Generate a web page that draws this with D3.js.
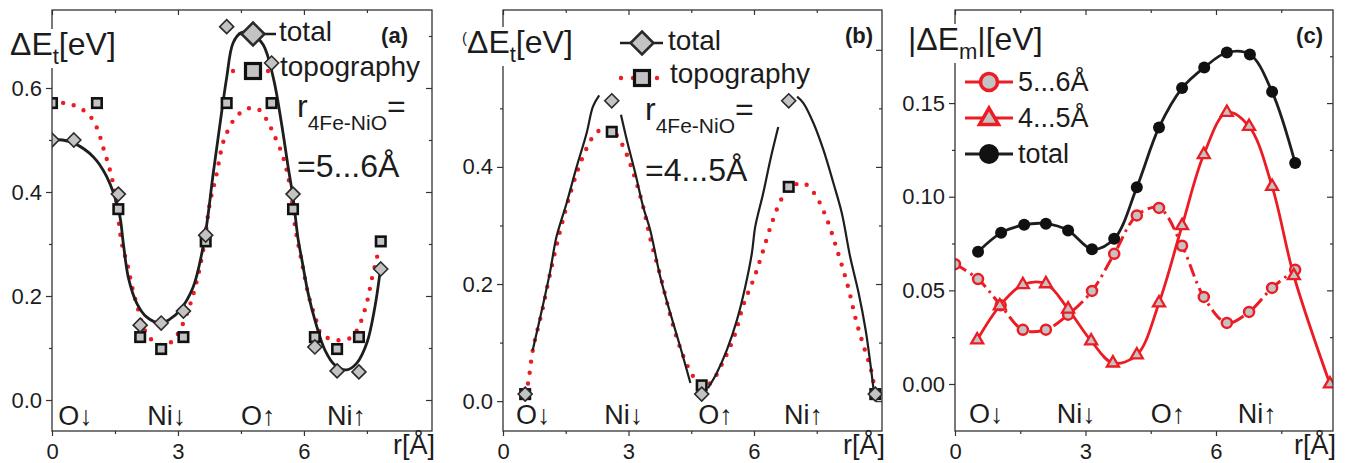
<!DOCTYPE html>
<html lang="en">
<head>
<meta charset="UTF-8">
<title>Energy profiles along r</title>
<script src="https://d3js.org/d3.v7.min.js"></script>
<style>
  body { margin: 0; background: #fff; }
  svg { font-family: "Liberation Sans", Arial, sans-serif; }
  svg text { fill: #1c1c1c; }
</style>
</head>
<body>
<script>
// ---------------- data ----------------
const siteLabels = ["O↓", "Ni↓", "O↑", "Ni↑"];
const xMajor = [0, 3, 6];
const xMinor = [1.5, 4.5, 7.5];

// (a) r_4Fe-NiO = 5...6 Å
const aTotalR = [0, 0.52, 1.58, 2.1, 2.6, 3.13, 3.66, 4.16, 5.23, 5.74, 6.26, 6.79, 7.31, 7.83];
const aTotalE = [0.50, 0.50, 0.396, 0.144, 0.148, 0.171, 0.317, 0.718, 0.648, 0.396, 0.102, 0.056, 0.054, 0.252];
const aTopoR = [0, 1.07, 1.58, 2.1, 2.6, 3.13, 3.66, 4.16, 5.23, 5.74, 6.26, 6.79, 7.31, 7.83];
const aTopoE = [0.571, 0.571, 0.367, 0.121, 0.098, 0.121, 0.305, 0.571, 0.571, 0.367, 0.121, 0.098, 0.121, 0.305];
// fitted curves
const aFitTotalR = [0, 0.25, 0.52, 0.98, 1.3, 1.6, 1.7, 1.82, 2.02, 2.25, 2.57, 2.8, 3.05, 3.36, 3.57, 3.69, 3.84, 4.0, 4.16, 4.31, 4.5, 4.75, 5.03, 5.27, 5.47, 5.62, 5.74, 5.86, 5.95, 6.1, 6.26, 6.5, 6.74, 7.02, 7.26, 7.5, 7.69, 7.81];
const aFitTotalE = [0.50, 0.50, 0.494, 0.468, 0.43, 0.36, 0.30, 0.235, 0.186, 0.16, 0.148, 0.155, 0.173, 0.217, 0.283, 0.34, 0.436, 0.53, 0.62, 0.686, 0.706, 0.705, 0.683, 0.62, 0.53, 0.45, 0.39, 0.31, 0.27, 0.205, 0.154, 0.096, 0.067, 0.058, 0.071, 0.11, 0.179, 0.244];
const aFitTopoR = [0, 0.31, 0.57, 0.86, 1.05, 1.24, 1.4, 1.52, 1.66, 1.81, 1.93, 2.05, 2.17, 2.31, 2.57, 2.85, 3.05, 3.27, 3.43, 3.6, 3.76, 3.9, 4.07, 4.17, 4.36, 4.64, 4.9, 5.12, 5.26, 5.5, 5.67, 5.79, 5.95, 6.12, 6.29, 6.38, 6.57, 6.86, 7.14, 7.31, 7.5, 7.62, 7.76];
const aFitTopoE = [0.571, 0.571, 0.565, 0.55, 0.527, 0.48, 0.436, 0.388, 0.302, 0.256, 0.21, 0.175, 0.142, 0.121, 0.106, 0.112, 0.135, 0.179, 0.223, 0.288, 0.379, 0.427, 0.494, 0.515, 0.542, 0.56, 0.56, 0.538, 0.515, 0.468, 0.41, 0.333, 0.265, 0.198, 0.154, 0.131, 0.119, 0.115, 0.121, 0.142, 0.188, 0.234, 0.281];

// (b) r_4Fe-NiO = 4...5 Å
const bTotalR = [0.53, 2.6, 4.75, 6.83, 8.9];
const bTotalE = [0.012, 0.513, 0.012, 0.513, 0.012];
const bTopoR = [0.53, 2.6, 4.75, 6.83, 8.9];
const bTopoE = [0.012, 0.46, 0.027, 0.366, 0.012];
// NaN marks the gaps of the solid curve
const bFitTotalR = [0.71, 0.93, 1.12, 1.28, 1.52, 1.76, 2.0, 2.15, 2.3, NaN, 2.82, 2.96, 3.16, 3.35, 3.52, 3.76, 4.0, 4.24, 4.48, NaN, 4.9, 5.11, 5.35, 5.59, 5.79, 5.95, 6.03, 6.22, 6.39, 6.58, NaN, 7.03, 7.18, 7.42, 7.66, 7.9, 8.1, 8.3, 8.5, 8.67, 8.78, 8.86];
const bFitTotalE = [0.087, 0.156, 0.219, 0.281, 0.338, 0.4, 0.458, 0.503, 0.522, NaN, 0.489, 0.446, 0.39, 0.332, 0.292, 0.212, 0.15, 0.092, 0.031, NaN, 0.022, 0.048, 0.087, 0.138, 0.195, 0.253, 0.298, 0.355, 0.412, 0.468, NaN, 0.52, 0.509, 0.475, 0.429, 0.372, 0.321, 0.246, 0.185, 0.121, 0.065, 0.019];
const bFitTopoR = [0.53, 0.6, 0.72, 0.93, 1.13, 1.37, 1.55, 1.77, 2.0, 2.2, 2.45, 2.65, 2.88, 3.09, 3.33, 3.53, 3.77, 4.05, 4.32, 4.56, 4.75, 4.96, 5.28, 5.52, 5.76, 6.0, 6.2, 6.45, 6.69, 6.95, 7.17, 7.43, 7.72, 8.0, 8.25, 8.44, 8.63, 8.8, 8.9];
const bFitTopoE = [0.012, 0.031, 0.09, 0.152, 0.219, 0.292, 0.34, 0.391, 0.432, 0.456, 0.467, 0.46, 0.434, 0.395, 0.338, 0.275, 0.212, 0.133, 0.075, 0.041, 0.027, 0.031, 0.07, 0.109, 0.167, 0.21, 0.253, 0.309, 0.349, 0.368, 0.373, 0.356, 0.315, 0.255, 0.195, 0.138, 0.092, 0.053, 0.012];

// (c) |dE_m|
const cTotalR = [0.53, 1.06, 1.59, 2.09, 2.6, 3.15, 3.66, 4.18, 4.69, 5.22, 5.73, 6.25, 6.78, 7.29, 7.82];
const cTotalE = [0.0706, 0.0807, 0.085, 0.0856, 0.082, 0.072, 0.0775, 0.105, 0.137, 0.158, 0.169, 0.177, 0.176, 0.156, 0.118];
const c56R = [0, 0.53, 1.05, 1.56, 2.09, 2.6, 3.15, 3.66, 4.18, 4.69, 5.22, 5.72, 6.25, 6.76, 7.29, 7.82];
const c56E = [0.064, 0.056, 0.042, 0.0289, 0.029, 0.037, 0.0497, 0.0695, 0.09, 0.094, 0.0738, 0.0465, 0.0326, 0.0385, 0.0513, 0.061];
const c45R = [0.51, 1.03, 1.56, 2.09, 2.6, 3.13, 3.63, 4.18, 4.69, 5.22, 5.72, 6.25, 6.76, 7.29, 7.79, 8.62];
const c45E = [0.0235, 0.0417, 0.053, 0.0535, 0.040, 0.023, 0.0112, 0.0155, 0.0433, 0.0845, 0.1225, 0.145, 0.1375, 0.1055, 0.0578, 0.0];

// ---------------- drawing ----------------
const red = "#ec1c24", ink = "#1e1e1e", grey = "#c3c3c3", axisInk = "#333";
const svg = d3.select("body").append("svg").attr("width", 1345).attr("height", 463);

const pts = (xs, ys) => xs.map((r, i) => [r, ys[i]]);
const diamond = h => `M0,${-h}L${h},0L0,${h}L${-h},0Z`;
const triangle = s => `M0,${-s / Math.sqrt(3)}L${s / 2},${s / (2 * Math.sqrt(3))}L${-s / 2},${s / (2 * Math.sqrt(3))}Z`;

function makePanel(cfg) {
  const x = d3.scaleLinear().domain([0, cfg.xMax]).range([cfg.left, cfg.right]);
  const y = d3.scaleLinear().domain(cfg.yDomain).range([cfg.bottom, cfg.top]);
  const g = svg.append("g");

  svg.append("clipPath").attr("id", "clip-" + cfg.name).append("rect")
    .attr("x", cfg.left).attr("y", cfg.top)
    .attr("width", cfg.right - cfg.left).attr("height", cfg.bottom - cfg.top);

  const fmt = d3.format(cfg.yFmt);
  const ax = g.append("g");
  const bot = `translate(0,${cfg.bottom})`, tp = `translate(0,${cfg.top})`;
  ax.append("g").attr("transform", bot).call(d3.axisBottom(x).tickValues(xMajor).tickSize(5).tickPadding(7).tickFormat(d3.format("d")));
  ax.append("g").attr("transform", bot).call(d3.axisBottom(x).tickValues(xMinor).tickSize(3).tickFormat(""));
  ax.append("g").attr("transform", tp).call(d3.axisTop(x).tickValues(xMajor).tickSize(-5).tickFormat(""));
  ax.append("g").attr("transform", tp).call(d3.axisTop(x).tickValues(xMinor).tickSize(-3).tickFormat(""));
  ax.append("g").attr("transform", `translate(${cfg.left},0)`).call(d3.axisLeft(y).tickValues(cfg.yTicks).tickSize(6).tickPadding(4)
    .tickFormat(d => d <= cfg.yLabelMax ? fmt(d) : ""));
  ax.append("g").attr("transform", `translate(${cfg.left},0)`).call(d3.axisLeft(y).tickValues(cfg.yMinor).tickSize(3).tickFormat(""));
  ax.append("g").attr("transform", `translate(${cfg.right},0)`).call(d3.axisRight(y).tickValues(cfg.yTicks).tickSize(-6).tickFormat(""));
  ax.append("g").attr("transform", `translate(${cfg.right},0)`).call(d3.axisRight(y).tickValues(cfg.yMinor).tickSize(-3).tickFormat(""));
  ax.selectAll(".domain").remove();
  ax.selectAll("line").attr("stroke", axisInk).attr("stroke-width", 1.2);
  ax.selectAll("text").style("font-size", "22px").style("fill", "#1c1c1c");
  ax.selectAll("text").filter(function () { return this.textContent === ""; }).remove();

  const plot = g.append("g").attr("clip-path", `url(#clip-${cfg.name})`);

  g.append("rect").attr("class", "frame")
    .attr("x", cfg.left).attr("y", cfg.top)
    .attr("width", cfg.right - cfg.left).attr("height", cfg.bottom - cfg.top)
    .attr("fill", "none").attr("stroke", axisInk).attr("stroke-width", 1.3);

  // site labels along the bottom
  g.selectAll(".site").data(siteLabels).join("text")
    .attr("x", (d, i) => x(cfg.sitePos[i])).attr("y", cfg.siteY)
    .style("font-size", "27px").text(d => d);

  // r[Å]
  g.append("text").attr("x", cfg.right + 3).attr("y", 454).attr("text-anchor", "end")
    .style("font-size", "27px").text("r[Å]");

  // panel tag
  g.append("text").attr("x", cfg.tagX).attr("y", 43).attr("text-anchor", "end")
    .style("font-size", "22px").style("font-weight", "bold").text(cfg.tag);

  return { x, y, g, plot };
}

function title(g, x0, y0, main, sub, tail, pre) {
  const t = g.append("text").attr("x", x0).attr("y", y0).style("font-size", "32px");
  if (pre) t.append("tspan").style("font-size", "15px").attr("dy", -10).text(pre);
  t.append("tspan").attr("dy", pre ? 10 : 0).text(main);
  t.append("tspan").style("font-size", "22px").attr("dy", 9).text(sub);
  t.append("tspan").attr("dy", -9).text(tail);
  const b = t.node().getBBox();
  g.insert("rect", function () { return t.node(); })
    .attr("x", b.x - 1).attr("y", b.y + 3).attr("width", b.width + 2).attr("height", b.height - 4)
    .attr("fill", "#fff");
}

function drawLine(plot, p, data, style) {
  const line = d3.line().defined(d => !isNaN(d[0])).x(d => p.x(d[0])).y(d => p.y(d[1]))
    .curve(d3.curveCatmullRom.alpha(0.5));
  plot.append("path").datum(data).attr("d", line).attr("fill", "none")
    .attr("stroke", style.color).attr("stroke-width", style.width)
    .attr("stroke-dasharray", style.dash || null)
    .attr("stroke-linecap", style.cap || "butt");
}

function dotted(plot, p, data) {
  drawLine(plot, p, data, { color: red, width: 4.4, dash: "0 11", cap: "round" });
}

function squares(plot, p, data, s, sw) {
  plot.selectAll(null).data(data).join("rect")
    .attr("x", d => p.x(d[0]) - s / 2).attr("y", d => p.y(d[1]) - s / 2)
    .attr("width", s).attr("height", s)
    .attr("fill", grey).attr("stroke", "#111").attr("stroke-width", sw);
}
function diamonds(plot, p, data, h) {
  plot.selectAll(null).data(data).join("path")
    .attr("transform", d => `translate(${p.x(d[0])},${p.y(d[1])})`)
    .attr("d", diamond(h)).attr("fill", grey).attr("stroke", "#2a2a2a").attr("stroke-width", 1.6);
}

// legend helpers for (a)/(b)
function legendTotal(g, cx, cy, x1, x2, tx, ty) {
  g.append("line").attr("x1", x1).attr("x2", x2).attr("y1", cy).attr("y2", cy).attr("stroke", ink).attr("stroke-width", 2.5);
  g.append("path").attr("transform", `translate(${cx},${cy})`).attr("d", diamond(11.5))
    .attr("fill", grey).attr("stroke", "#2a2a2a").attr("stroke-width", 2.5);
  g.append("text").attr("x", tx).attr("y", ty).style("font-size", "28px").text("total");
}
function legendTopo(g, cx, cy, dots, tx, ty) {
  g.selectAll(null).data(dots).join("circle").attr("cx", d => d).attr("cy", cy).attr("r", 2.2).attr("fill", red);
  g.append("rect").attr("x", cx - 7.5).attr("y", cy - 7.5).attr("width", 15).attr("height", 15)
    .attr("fill", grey).attr("stroke", "#111").attr("stroke-width", 3.2);
  g.append("text").attr("x", tx).attr("y", ty).style("font-size", "28px").text("topography");
}
function annot(g, x0, y0, y1, tail) {
  const t = g.append("text").attr("x", x0).attr("y", y0).style("font-size", "32px");
  t.append("tspan").text("r");
  t.append("tspan").style("font-size", "21px").attr("dy", 13).text("4Fe-NiO");
  t.append("tspan").attr("dy", -13).text("=");
  g.append("text").attr("x", x0).attr("y", y1).style("font-size", "32px").text(tail);
}

// ---- panel (a)
const pa = makePanel({
  name: "a", left: 52, right: 432, top: 10, bottom: 431, xMax: 9.05,
  yDomain: [-0.0596, 0.75], yTicks: [0, 0.2, 0.4, 0.6], yMinor: [0.1, 0.3, 0.5, 0.7], yFmt: ".1f", yLabelMax: 0.6,
  sitePos: [0.15, 2.27, 4.5, 6.55], siteY: 425, tag: "(a)", tagX: 408
});
dotted(pa.plot, pa, pts(aFitTopoR, aFitTopoE));
drawLine(pa.plot, pa, pts(aFitTotalR, aFitTotalE), { color: ink, width: 2.8 });
squares(pa.plot, pa, pts(aTopoR, aTopoE), 9.5, 2.6);
diamonds(pa.plot, pa, pts(aTotalR, aTotalE), 7);
legendTotal(pa.g, 253, 34, 238, 276, 279, 41);
legendTopo(pa.g, 253, 71, [233, 268], 280, 76);
annot(pa.g, 297, 117, 177, "=5...6Å");
title(pa.g, 10, 55, "ΔE", "t", "[eV]");

// ---- panel (b)
const pb = makePanel({
  name: "b", left: 503, right: 882, top: 10, bottom: 431, xMax: 9.06,
  yDomain: [-0.051, 0.668], yTicks: [0, 0.2, 0.4, 0.6], yMinor: [0.1, 0.3, 0.5], yFmt: ".1f", yLabelMax: 0.4,
  sitePos: [0.31, 2.42, 4.67, 6.72], siteY: 424, tag: "(b)", tagX: 873
});
dotted(pb.plot, pb, pts(bFitTopoR, bFitTopoE));
drawLine(pb.plot, pb, pts(bFitTotalR, bFitTotalE), { color: ink, width: 2.2 });
squares(pb.plot, pb, pts(bTopoR, bTopoE), 9.5, 2.6);
diamonds(pb.plot, pb, pts(bTotalR, bTotalE), 7);
legendTotal(pb.g, 642, 43, 620, 663, 668, 50);
legendTopo(pb.g, 642, 78, [621, 633, 657], 670, 83);
annot(pb.g, 645, 120, 181, "=4...5Å");
title(pb.g, 462, 53, "ΔE", "t", "[eV]", "(");

// ---- panel (c)
const pc = makePanel({
  name: "c", left: 955, right: 1333, top: 10, bottom: 431, xMax: 8.69,
  yDomain: [-0.0251, 0.1997], yTicks: [0, 0.05, 0.1, 0.15], yMinor: [0.025, 0.075, 0.125, 0.175], yFmt: ".2f", yLabelMax: 0.15,
  sitePos: [0.32, 2.34, 4.5, 6.5], siteY: 423, tag: "(c)", tagX: 1323
});
drawLine(pc.plot, pc, pts(c56R, c56E), { color: red, width: 3, dash: "13 5 2.5 5" });
drawLine(pc.plot, pc, pts(c45R, c45E), { color: red, width: 2.8 });
drawLine(pc.plot, pc, pts(cTotalR, cTotalE), { color: ink, width: 2.8 });
pc.plot.selectAll(null).data(pts(c56R, c56E)).join("circle")
  .attr("cx", d => pc.x(d[0])).attr("cy", d => pc.y(d[1])).attr("r", 5)
  .attr("fill", grey).attr("stroke", red).attr("stroke-width", 2.5);
pc.plot.selectAll(null).data(pts(c45R, c45E)).join("path")
  .attr("transform", d => `translate(${pc.x(d[0])},${pc.y(d[1])})`)
  .attr("d", triangle(12)).attr("fill", grey).attr("stroke", red).attr("stroke-width", 2.3);
pc.plot.selectAll(null).data(pts(cTotalR, cTotalE)).join("circle")
  .attr("cx", d => pc.x(d[0])).attr("cy", d => pc.y(d[1])).attr("r", 6).attr("fill", "#111");

// legend (c)
const lc = pc.g.append("g");
[82, 118].forEach(yy => lc.append("line").attr("x1", 965).attr("x2", 1013).attr("y1", yy).attr("y2", yy).attr("stroke", red).attr("stroke-width", 3.2));
lc.append("line").attr("x1", 965).attr("x2", 1013).attr("y1", 154).attr("y2", 154).attr("stroke", ink).attr("stroke-width", 3);
lc.append("circle").attr("cx", 989).attr("cy", 82).attr("r", 8.5).attr("fill", grey).attr("stroke", red).attr("stroke-width", 3.5);
lc.append("path").attr("transform", "translate(989,119)").attr("d", triangle(19)).attr("fill", grey).attr("stroke", red).attr("stroke-width", 3.5);
lc.append("circle").attr("cx", 989).attr("cy", 154).attr("r", 10).attr("fill", "#111");
lc.append("text").attr("x", 1018).attr("y", 91).style("font-size", "27px").text("5...6Å");
lc.append("text").attr("x", 1018).attr("y", 127).style("font-size", "27px").text("4...5Å");
lc.append("text").attr("x", 1018).attr("y", 163).style("font-size", "27px").text("total");

// title (c)
(function () {
  const t = pc.g.append("text").attr("x", 908).attr("y", 50).style("font-size", "32px");
  t.append("tspan").text("|ΔE");
  t.append("tspan").style("font-size", "22px").attr("dy", 9).text("m");
  t.append("tspan").attr("dy", -9).text("|[eV]");
  const b = t.node().getBBox();
  pc.g.insert("rect", function () { return t.node(); })
    .attr("x", b.x - 1).attr("y", b.y + 3).attr("width", b.width + 2).attr("height", b.height - 4)
    .attr("fill", "#fff");
})();
</script>
</body>
</html>
